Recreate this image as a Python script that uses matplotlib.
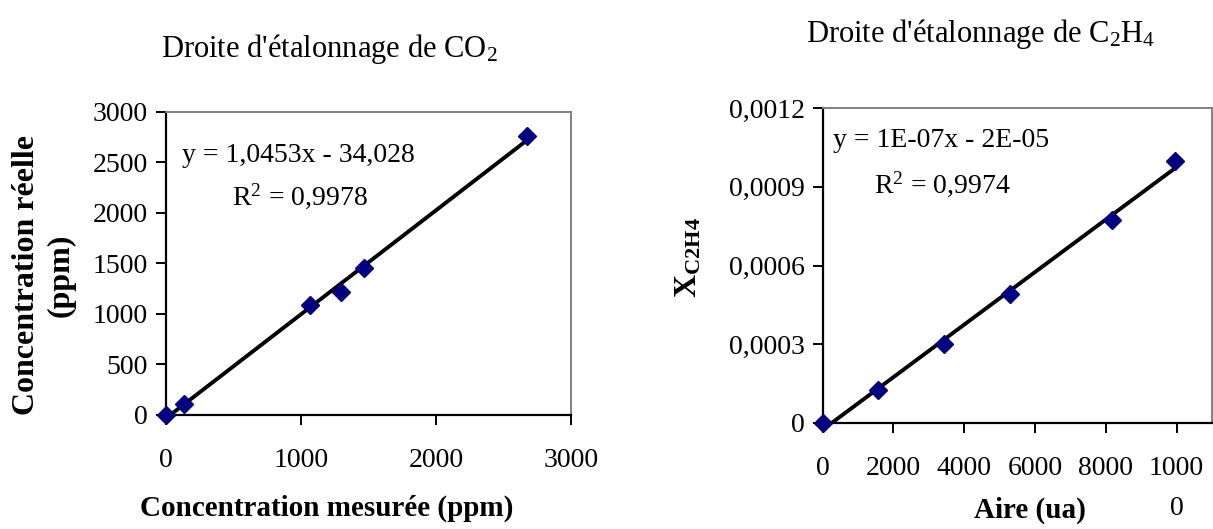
import matplotlib
matplotlib.use("Agg")
import matplotlib.pyplot as plt
import numpy as np

plt.rcParams['font.family'] = ['Liberation Serif', 'DejaVu Serif']
plt.rcParams['mathtext.fontset'] = 'custom'
plt.rcParams['mathtext.rm'] = 'Liberation Serif'
plt.rcParams['mathtext.it'] = 'Liberation Serif:italic'
plt.rcParams['mathtext.bf'] = 'Liberation Serif:bold'

# CO2 calibration
co2_measured = [0, 133, 1067, 1297, 1465, 2672]
co2_real = [0, 106, 1086, 1218, 1449, 2759]
co2_eq = "y = 1,0453x - 34,028"
co2_r2 = r"R$^{2}$ = 0,9978"

# C2H4 calibration
c2h4_area = [0, 1570, 3440, 5290, 8170, 9950]
c2h4_x = [0, 0.000126, 0.000302, 0.000492, 0.000772, 0.001]
c2h4_eq = "y = 1E-07x - 2E-05"
c2h4_r2 = r"R$^{2}$ = 0,9974"

left_xticks = [0, 1000, 2000, 3000]
left_yticks = [0, 500, 1000, 1500, 2000, 2500, 3000]
right_xticks = [0, 2000, 4000, 6000, 8000, 10000]
right_xlabels = ["0", "2000", "4000", "6000", "8000", "1000\n0"]
right_yticks = [0, 0.0003, 0.0006, 0.0009, 0.0012]
right_ylabels = ["0", "0,0003", "0,0006", "0,0009", "0,0012"]

W, H = 1213, 529
fig = plt.figure(figsize=(W / 100, H / 100), dpi=100)

NAVY = '#000080'
TICK_FS = 20


def style_axes(ax):
    for s in ['left', 'bottom']:
        ax.spines[s].set_color('black')
        ax.spines[s].set_linewidth(1.6)
    for s in ['top', 'right']:
        ax.spines[s].set_color('#808080')
        ax.spines[s].set_linewidth(1.4)
    ax.tick_params(direction='out', length=7, width=1.4, labelsize=TICK_FS)
    ax.tick_params(axis='x', pad=17)
    ax.tick_params(axis='y', pad=6)


def draw_fit(ax, x, y):
    slope, icpt = np.polyfit(x, y, 1)
    xx = np.array([0, max(x)])
    ax.plot(xx, slope * xx + icpt, '-', color='black', lw=2.8, zorder=2)


# ---- left chart
ax1 = fig.add_axes([166 / W, 1 - 414.7 / H, 405 / W, 303 / H])
draw_fit(ax1, co2_measured, co2_real)
ax1.plot(co2_measured, co2_real, 'D', color=NAVY, ms=9.5, zorder=3, clip_on=False)
ax1.set_xlim(0, 3000)
ax1.set_ylim(0, 3000)
ax1.set_xticks(left_xticks)
ax1.set_yticks(left_yticks)
style_axes(ax1)
ax1.set_xlabel("Concentration mesurée (ppm)", fontsize=21, fontweight='bold')
ax1.xaxis.set_label_coords(0.3975, -0.308)
ax1.xaxis.label.set_va('center')
ax1.set_ylabel("Concentration réelle\n(ppm)", fontsize=23, fontweight='bold',
               linespacing=1.25)
ax1.yaxis.set_label_coords(-0.301, 0.461)
ax1.yaxis.label.set_va('center')
ax1.text((181.7 - 166) / 405, (414.7 - 161.7) / 303, co2_eq, transform=ax1.transAxes,
         fontsize=20, va='baseline', ha='left')
ax1.text((231.7 - 166) / 405, (414.7 - 205) / 303, co2_r2, transform=ax1.transAxes,
         fontsize=20, va='baseline', ha='left')
fig.text(329 / W, 1 - 57 / H, r"Droite d'étalonnage de CO$_{2}$", fontsize=22,
         ha='center', va='baseline')

# ---- right chart
ax2 = fig.add_axes([822.7 / W, 1 - 423 / H, 389.3 / W, 315 / H])
draw_fit(ax2, c2h4_area, c2h4_x)
ax2.plot(c2h4_area, c2h4_x, 'D', color=NAVY, ms=9.5, zorder=3, clip_on=False)
ax2.set_xlim(0, 11000)
ax2.set_ylim(0, 0.0012)
ax2.set_xticks(right_xticks)
ax2.set_xticklabels(right_xlabels, linespacing=1.75)
ax2.set_yticks(right_yticks)
ax2.set_yticklabels(right_ylabels)
style_axes(ax2)
ax2.set_xlabel("Aire (ua)", fontsize=21, fontweight='bold')
ax2.xaxis.set_label_coords(0.5325, -0.276)
ax2.xaxis.label.set_va('center')
ax2.set_ylabel(r"$\mathbf{X}_{\mathbf{C2H4}}$", fontsize=23)
ax2.yaxis.set_label_coords(-0.343, 0.524)
ax2.yaxis.label.set_va('center')
ax2.text((833 - 822.7) / 389.3, (423 - 146.7) / 315, c2h4_eq, transform=ax2.transAxes,
         fontsize=20, va='baseline', ha='left')
ax2.text((874 - 822.7) / 389.3, (423 - 193) / 315, c2h4_r2, transform=ax2.transAxes,
         fontsize=20, va='baseline', ha='left')
fig.text(980 / W, 1 - 42 / H, r"Droite d'étalonnage de C$_{2}$H$_{4}$", fontsize=22,
         ha='center', va='baseline')

fig.savefig("out.png", dpi=100)
